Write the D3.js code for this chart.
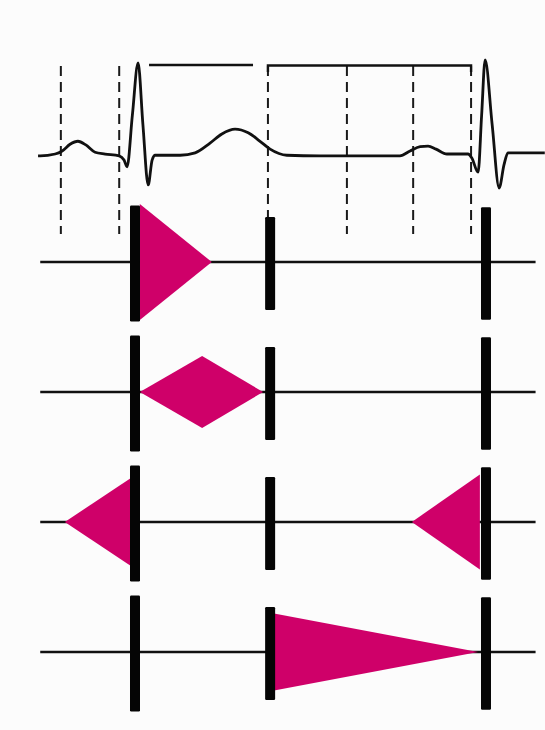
<!DOCTYPE html>
<html>
<head>
<meta charset="utf-8">
<script src="https://cdn.jsdelivr.net/npm/d3@7"></script>
<style>
  html, body { margin: 0; padding: 0; background: #fcfcfc; }
  svg { display: block; }
</style>
</head>
<body>
<script>
// ---- DATA (time in ms relative to S1, voltage in mV, loudness relative) ----
const ecgTime = [-221, -216, -182, -166, -148, -130, -112, -91, -68, -36, -25, -18, -6, 7, 18, 30, 39, 46, 103, 137, 171, 198, 228, 258, 285, 308, 346, 422, 513, 604, 627, 650, 668, 686, 711, 759, 768, 782, 790, 798, 814, 830, 841, 850, 934];
const ecgVolt = [-0.03, -0.03, 0, 0.05, 0.16, 0.21, 0.15, 0.03, 0, -0.03, -0.10, -0.21, 0.64, 1.50, 0.49, -0.51, -0.10, -0.02, -0.02, 0.02, 0.18, 0.33, 0.41, 0.35, 0.21, 0.08, -0.02, -0.03, -0.03, -0.03, 0.05, 0.12, 0.13, 0.08, 0, 0, -0.07, -0.30, 0.63, 1.55, 0.49, -0.56, -0.18, 0.02, 0.02];

const markerTimes = [-169, -36, 303, 483, 634, 766];
const systoleSpan = [32, 269];
const diastoleSpan = [303, 766];

const rows = ["Early systolic", "Midsystolic", "Presystolic", "Diastolic"];
const soundNames = ["S1", "S2", "S1"];
const soundTimes = [0, 308, 800];
const soundLoudness = [1.0, 0.8, 0.97];

const murmurEarlySystolic = [{t: 11, a: 1.0}, {t: 175, a: 0}];
const murmurMidSystolic = [{t: 11, a: 0}, {t: 153, a: 0.62}, {t: 292, a: 0}];
const murmurPresystolicA = [{t: -160, a: 0}, {t: -11, a: 0.75}];
const murmurPresystolicB = [{t: 631, a: 0}, {t: 786, a: 0.82}];
const murmurDiastolic = [{t: 314, a: 0.67}, {t: 782, a: 0}];
const murmurs = [
  {row: "Early systolic", shape: murmurEarlySystolic},
  {row: "Midsystolic", shape: murmurMidSystolic},
  {row: "Presystolic", shape: murmurPresystolicA},
  {row: "Presystolic", shape: murmurPresystolicB},
  {row: "Diastolic", shape: murmurDiastolic}
];
const rowLineSpan = [-216, 913];

// ---- CHART ----
const W = 545, H = 730;
const magenta = "#cf0069";
const svg = d3.select("body").append("svg").attr("width", W).attr("height", H);
svg.append("rect").attr("width", W).attr("height", H).attr("fill", "#fcfcfc");

const x = d3.scaleLinear().domain([-307.7, 934.5]).range([0, 545]);
const yEcg = d3.scaleLinear().domain([-0.5, 1.5]).range([184.35, 63]);
const yRow = d3.scalePoint().domain(rows).range([262, 652]);
const amp = d3.scaleLinear().domain([0, 1]).range([0, 58]);

// dashed timing lines
svg.append("g").selectAll("line").data(markerTimes).join("line")
  .attr("x1", d => x(d)).attr("x2", d => x(d))
  .attr("y1", 66).attr("y2", 234)
  .attr("stroke", "#1a1a1a").attr("stroke-width", 2)
  .attr("stroke-dasharray", "10,6");

// systole bar
svg.append("line")
  .attr("x1", x(systoleSpan[0])).attr("x2", x(systoleSpan[1]))
  .attr("y1", 65).attr("y2", 65)
  .attr("stroke", "#111").attr("stroke-width", 2.4);
// diastole bracket
svg.append("path")
  .attr("d", `M${x(diastoleSpan[0])},72 V65.5 H${x(diastoleSpan[1])} V72`)
  .attr("fill", "none").attr("stroke", "#111").attr("stroke-width", 2.4);

// ECG trace
const ecg = ecgTime.map((t, i) => ({t, v: ecgVolt[i]}));
svg.append("path").datum(ecg)
  .attr("d", d3.line().x(d => x(d.t)).y(d => yEcg(d.v)).curve(d3.curveMonotoneX))
  .attr("fill", "none").attr("stroke", "#111").attr("stroke-width", 2.8)
  .attr("stroke-linejoin", "round");

// row baselines
svg.append("g").selectAll("line").data(rows).join("line")
  .attr("x1", x(rowLineSpan[0])).attr("x2", x(rowLineSpan[1]))
  .attr("y1", d => yRow(d)).attr("y2", d => yRow(d))
  .attr("stroke", "#111").attr("stroke-width", 2.4);

// murmurs
const area = d3.area().curve(d3.curveLinear);
svg.append("g").selectAll("path").data(murmurs).join("path")
  .attr("d", m => area
    .x(d => x(d.t))
    .y0(d => yRow(m.row) - amp(d.a))
    .y1(d => yRow(m.row) + amp(d.a))(m.shape))
  .attr("fill", magenta);

// heart sounds
const sounds = [];
rows.forEach(r => soundTimes.forEach((t, i) => sounds.push({row: r, name: soundNames[i], t, l: soundLoudness[i]})));
svg.append("g").selectAll("rect").data(sounds).join("rect")
  .attr("x", d => x(d.t) - 5)
  .attr("width", 10)
  .attr("y", d => yRow(d.row) + 1.5 - amp(d.l))
  .attr("height", d => 2 * amp(d.l))
  .attr("rx", 1.2)
  .attr("fill", "#050505");
</script>
</body>
</html>
